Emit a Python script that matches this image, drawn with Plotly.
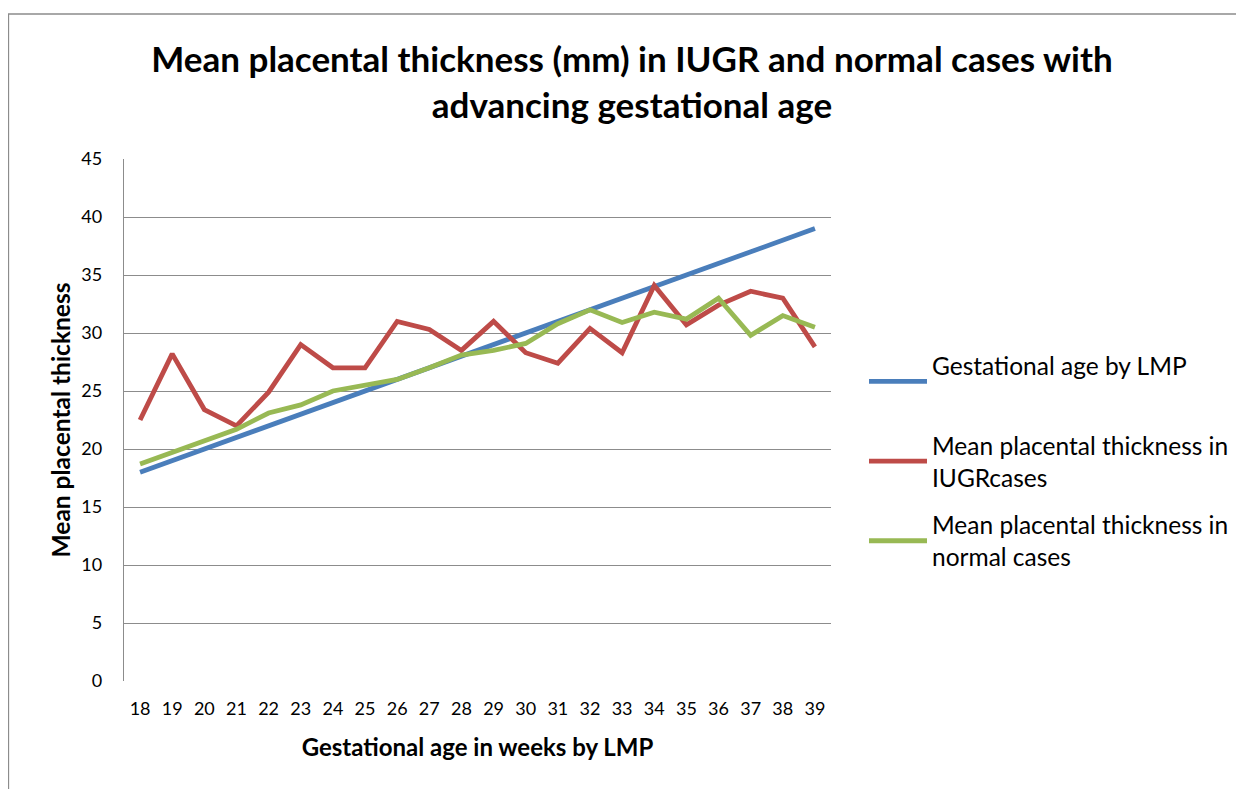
import plotly.graph_objects as go

weeks = list(range(18, 40))
gest_age_lmp = [18, 19, 20, 21, 22, 23, 24, 25, 26, 27, 28, 29, 30, 31, 32, 33, 34, 35, 36, 37, 38, 39]
iugr = [22.5, 28.2, 23.4, 22.0, 24.9, 29.0, 27.0, 27.0, 31.0, 30.3, 28.5, 31.0, 28.3, 27.4, 30.4, 28.3, 34.1, 30.7, 32.4, 33.6, 33.0, 28.8]
normal = [18.7, 19.7, 20.7, 21.7, 23.1, 23.8, 25.0, 25.5, 26.0, 27.0, 28.1, 28.5, 29.1, 30.8, 32.0, 30.9, 31.8, 31.2, 33.0, 29.8, 31.5, 30.5]
y_ticks = [0, 5, 10, 15, 20, 25, 30, 35, 40, 45]

FONT = "Lato"
fig = go.Figure()
fig.add_trace(go.Scatter(x=weeks, y=gest_age_lmp, mode="lines", name="Gestational age by LMP<br> ",
                         line=dict(color="#4A7EBB", width=4.8), legendgroup="a"))
fig.add_trace(go.Scatter(x=weeks, y=iugr, mode="lines", name="Mean placental thickness in<br>IUGRcases",
                         line=dict(color="#BE4B48", width=4.8), legendgroup="b"))
fig.add_trace(go.Scatter(x=weeks, y=normal, mode="lines", name="Mean placental thickness in<br>normal cases",
                         line=dict(color="#98B954", width=4.8), legendgroup="c"))

W, H = 1244, 789
L, R, T, B = 116, 823, 151, 673

def px2x(px):
    return (px - L) / (R - L)

def py2y(py):
    return 1 - (py - T) / (B - T)

fig.update_layout(
    width=W, height=H,
    margin=dict(l=L, r=W - R, t=T, b=H - B, autoexpand=False),
    paper_bgcolor="white", plot_bgcolor="white",
    font=dict(family=FONT, color="#000000"),
    title=dict(text="<b>Mean placental thickness (mm) in IUGR and normal cases with<br>advancing gestational age</b>",
               x=624 / W, xanchor="center", y=1 - 64 / H, yanchor="middle",
               font=dict(size=35, family=FONT, color="#000000")),
    xaxis=dict(range=[17.5, 39.5], tickmode="array", tickvals=weeks, ticktext=[str(w) for w in weeks],
               showgrid=False, zeroline=False, showline=False, ticks="",
               tickfont=dict(size=18, family=FONT), ticklabelstandoff=15,
               title=dict(text="<b>Gestational age in weeks by LMP</b>", font=dict(size=24, family=FONT), standoff=21)),
    yaxis=dict(range=[0, 45], tickmode="array", tickvals=y_ticks, showgrid=True, gridcolor="#8C8C8C", gridwidth=1.3,
               zeroline=False, showline=True, linecolor="#8C8C8C", linewidth=1.3, ticks="",
               tickfont=dict(size=18, family=FONT), ticklabelstandoff=17,
               title=dict(text="<b>Mean placental thickness</b>", font=dict(size=24.5, family=FONT), standoff=3)),
    legend=dict(x=px2x(856), xanchor="left", y=py2y(335), yanchor="top", font=dict(size=24.5, family=FONT),
                tracegroupgap=13, bgcolor="rgba(0,0,0,0)", itemwidth=58),
    showlegend=True,
    shapes=[dict(type="rect", xref="paper", yref="paper", x0=px2x(0.5), x1=px2x(1300), y0=py2y(850), y1=py2y(6),
                 line=dict(color="#8C8C8C", width=1.3), fillcolor="rgba(0,0,0,0)", layer="below")],
)

fig.write_html("out.html")
